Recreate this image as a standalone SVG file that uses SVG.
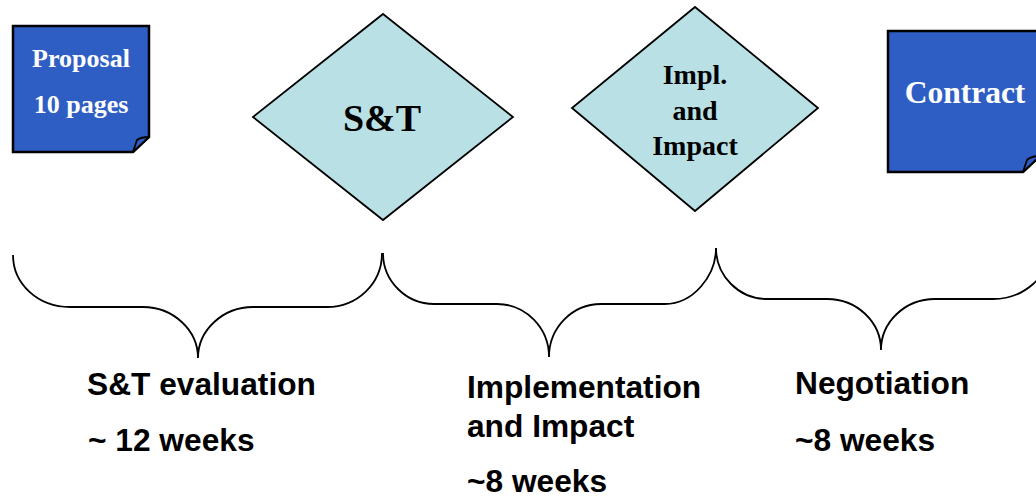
<svg xmlns="http://www.w3.org/2000/svg" width="1036" height="497" viewBox="0 0 1036 497">
<style>
.note{fill:#2E5EC3;stroke:#000;stroke-width:2.5;stroke-linejoin:miter}
.flap{fill:#2E5EC3;stroke:#000;stroke-width:1.8;stroke-linejoin:round}
.dia{fill:#B9E0E4;stroke:#000;stroke-width:1.8}
.nt{font-family:"Liberation Serif","Times New Roman",serif;font-weight:bold;fill:#fff;text-anchor:middle}
.dt{font-family:"Liberation Serif","Times New Roman",serif;font-weight:bold;fill:#000;text-anchor:middle}
.lb{font-family:"Liberation Sans",Arial,sans-serif;font-weight:bold;fill:#000;font-size:31.7px}
.brace{fill:none;stroke:#000;stroke-width:1.8}
</style>
<rect width="1036" height="497" fill="#fff"/>
<g id="proposal">
<path class="note" d="M13,26 H149 V137 L133,152 H13 Z"/>
<path class="flap" d="M133,152 L137,140 Q141,137 149,137 Z"/>
<text class="nt" x="81" y="67" font-size="26">Proposal</text>
<text class="nt" x="81" y="113" font-size="26">10 pages</text>
</g>
<g id="st">
<polygon class="dia" points="383,14 513,117 383,220 253,117"/>
<text class="dt" x="382" y="131" font-size="38">S&amp;T</text>
</g>
<g id="impl">
<polygon class="dia" points="695,7 818,108 695,211 572,108"/>
<text class="dt" x="695" y="84" font-size="28">Impl.</text>
<text class="dt" x="695" y="120" font-size="28">and</text>
<text class="dt" x="695" y="155" font-size="28">Impact</text>
</g>
<g id="contract">
<path class="note" d="M888,31 H1041 V155 L1023,172 H888 Z"/>
<path class="flap" d="M1023,172 L1027,160 Q1031,156 1040,156 Z"/>
<text class="nt" x="965" y="103" font-size="31.5">Contract</text>
</g>
<g id="connectors">
<path class="brace" d="M13,255 C13,284 38,307 70,307 L143,307 C173,307 198,330 198,358 C198,330 223,307 253,307 L327,307 C357,307 382,284 382,253"/>
<path class="brace" d="M383,253 C383,281 406,304 434,304 L497,304 C526,304 549,328 549,357 C549,328 572,304 601,304 L665,304 C693,304 716,276 716,248"/>
<path class="brace" d="M716,248 C716,276 739,299 767,299 L827,299 C857,299 881,322 881,350 C881,322 905,299 935,299 L993,299 C1024,299 1050,276 1050,248"/>
</g>
<g id="labels">
<text class="lb" x="87" y="395">S&amp;T evaluation</text>
<text class="lb" x="88" y="451">~ 12 weeks</text>
<text class="lb" x="467" y="398">Implementation</text>
<text class="lb" x="467" y="437">and Impact</text>
<text class="lb" x="467" y="492">~8 weeks</text>
<text class="lb" x="795" y="394">Negotiation</text>
<text class="lb" x="795" y="451">~8 weeks</text>
</g>
</svg>
